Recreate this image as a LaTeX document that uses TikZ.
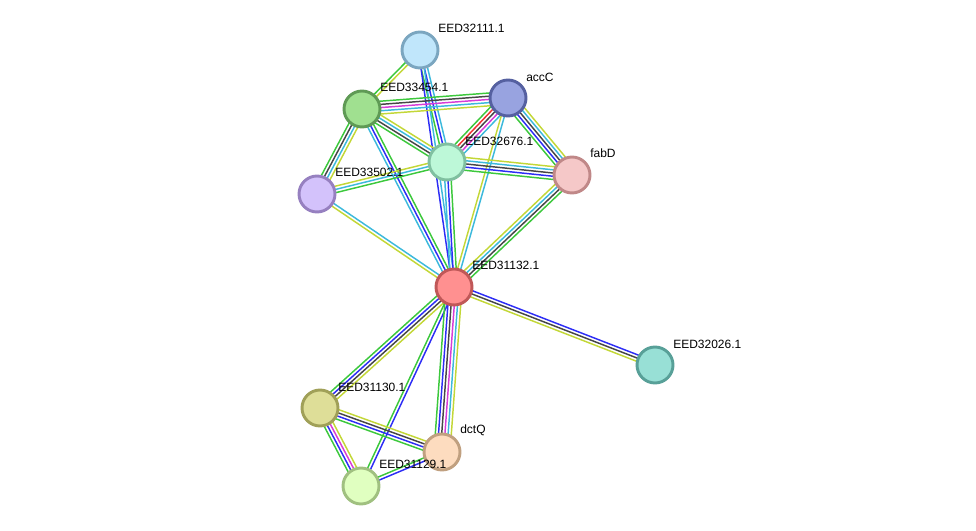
\documentclass[tikz,border=0pt]{standalone}
\usepackage{fontspec}
\setmainfont{Liberation Sans}
\usetikzlibrary{calc}
\pgfdeclarelayer{background}
\pgfsetlayers{background,main}
\definecolor{sgreen}{RGB}{60,200,60}
\definecolor{sblue}{RGB}{45,45,245}
\definecolor{scyan}{RGB}{60,185,220}
\definecolor{smag}{RGB}{215,60,215}
\definecolor{syel}{RGB}{195,215,55}
\definecolor{sblack}{RGB}{70,70,70}
\definecolor{sred}{RGB}{240,50,50}
\tikzset{
  prot/.style={circle, draw, line width=2.2pt, minimum size=27pt, inner sep=0pt},
  plabel/.style={anchor=west, font=\fontsize{9}{10}\selectfont, inner sep=0pt},
  eline/.style={line width=1.1pt}
}
\newcommand\sedge[4]{%
  \foreach \cc [count=\i] in {#4}{%
    \pgfmathsetmacro\off{((#3+1)/2-\i)*2.4}%
    \draw[eline,\cc] ($(#1.center)!\off pt!90:(#2.center)$) -- ($(#2.center)!\off pt!-90:(#1.center)$);
  }}
\begin{document}
\begin{tikzpicture}[x=0.75pt,y=-0.75pt]
\useasboundingbox (0,0) rectangle (976,531);
% nodes
\node[prot, fill={rgb,255:red,192;green,230;blue,251}, draw={rgb,255:red,123;green,166;blue,192}] (n32111) at (420,50) {};
\node[prot, fill={rgb,255:red,160;green,224;blue,144}, draw={rgb,255:red,95;green,154;blue,85}] (n33454) at (362,109) {};
\node[prot, fill={rgb,255:red,152;green,163;blue,224}, draw={rgb,255:red,85;green,96;blue,160}] (accC) at (508,98) {};
\node[prot, fill={rgb,255:red,189;green,248;blue,216}, draw={rgb,255:red,128;green,192;blue,160}] (n32676) at (447,162) {};
\node[prot, fill={rgb,255:red,245;green,200;blue,200}, draw={rgb,255:red,192;green,136;blue,136}] (fabD) at (572,175) {};
\node[prot, fill={rgb,255:red,211;green,194;blue,251}, draw={rgb,255:red,150;green,128;blue,192}] (n33502) at (317,194) {};
\node[prot, fill={rgb,255:red,255;green,144;blue,144}, draw={rgb,255:red,192;green,88;blue,88}] (n31132) at (454,287) {};
\node[prot, fill={rgb,255:red,152;green,224;blue,214}, draw={rgb,255:red,88;green,160;blue,152}] (n32026) at (655,365) {};
\node[prot, fill={rgb,255:red,222;green,222;blue,152}, draw={rgb,255:red,160;green,160;blue,88}] (n31130) at (320,408) {};
\node[prot, fill={rgb,255:red,253;green,220;blue,191}, draw={rgb,255:red,192;green,160;blue,128}] (dctQ) at (442,452) {};
\node[prot, fill={rgb,255:red,224;green,255;blue,192}, draw={rgb,255:red,160;green,192;blue,128}] (n31129) at (361,486) {};
% labels
\node[plabel] (l32111) at (438,28) {EED32111.1};
\node[plabel] (l33454) at (380,87) {EED33454.1};
\node[plabel] (laccC) at (526,77) {accC};
\node[plabel] (l32676) at (465,141) {EED32676.1};
\node[plabel] (lfabD) at (590,153) {fabD};
\node[plabel] (l33502) at (335,172) {EED33502.1};
\node[plabel] (l31132) at (472,265) {EED31132.1};
\node[plabel] (l32026) at (673,344) {EED32026.1};
\node[plabel] (l31130) at (338,387) {EED31130.1};
\node[plabel] (ldctQ) at (460,430) {dctQ};
\node[plabel] (l31129) at (379,464) {EED31129.1};
% edges
\begin{pgfonlayer}{background}
\sedge{n33454}{n32111}{2}{sgreen,syel}
\sedge{n32676}{n32111}{3}{sgreen,sblue,scyan}
\sedge{n31132}{n32111}{2}{sblue,scyan}
\sedge{n33454}{accC}{5}{sgreen,sblack,smag,scyan,syel}
\sedge{n32676}{n33454}{4}{sgreen,sblack,scyan,syel}
\sedge{n33502}{n33454}{4}{sgreen,sblack,scyan,syel}
\sedge{n33454}{n31132}{3}{sgreen,sblue,scyan}
\sedge{n32676}{accC}{5}{sgreen,sred,sblack,smag,scyan}
\sedge{fabD}{accC}{5}{sgreen,sblue,sblack,scyan,syel}
\sedge{accC}{n31132}{2}{scyan,syel}
\sedge{fabD}{n32676}{5}{sgreen,sblue,sblack,scyan,syel}
\sedge{n32676}{n33502}{3}{sgreen,scyan,syel}
\sedge{n32676}{n31132}{3}{sgreen,sblue,scyan}
\sedge{n33502}{n31132}{2}{scyan,syel}
\sedge{fabD}{n31132}{4}{sgreen,sblack,scyan,syel}
\sedge{n31132}{n32026}{3}{sblue,sblack,syel}
\sedge{n31130}{n31132}{4}{sgreen,sblue,sblack,syel}
\sedge{n31129}{n31132}{2}{sgreen,sblue}
\sedge{dctQ}{n31132}{6}{sgreen,sblue,sblack,smag,scyan,syel}
\sedge{dctQ}{n31130}{4}{sgreen,sblue,sblack,syel}
\sedge{n31129}{n31130}{4}{sgreen,sblue,smag,syel}
\sedge{n31129}{dctQ}{2}{sgreen,sblue}
\end{pgfonlayer}
\end{tikzpicture}
\end{document}
